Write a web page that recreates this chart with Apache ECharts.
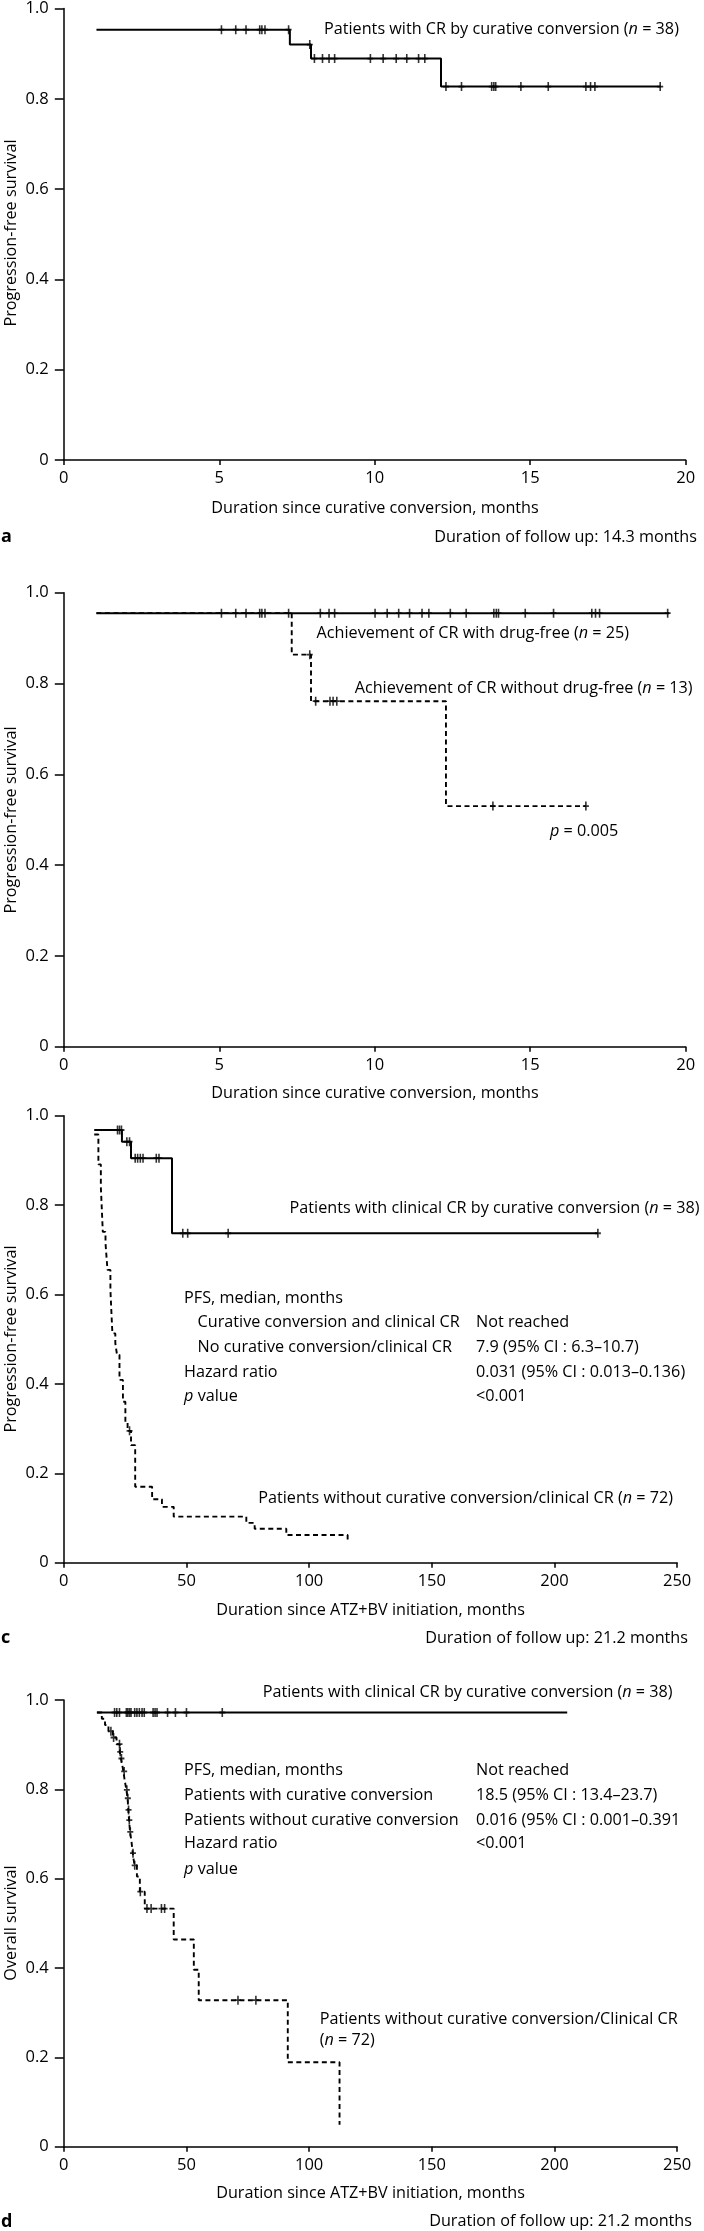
<!DOCTYPE html>
<html>
<head>
<meta charset="utf-8">
<script src="https://cdn.jsdelivr.net/npm/echarts@6/dist/echarts.min.js"></script>
<style>
html,body{margin:0;padding:0;background:#fff;}
#chart{width:704px;height:2231px;}
</style>
</head>
<body>
<div id="chart"></div>
<script>
// ---------- DATA ----------
const yTickLabels = ['0', '0.2', '0.4', '0.6', '0.8', '1.0'];

// Panel a: PFS since curative conversion
const aCurve = [[1.05,0.953],[7.27,0.920],[7.95,0.889],[12.13,0.827],[19.2,0.827]];
const aCensor = [5.07,5.53,5.86,6.30,6.37,6.47,7.23,7.91,8.06,8.32,8.53,8.71,9.86,10.27,10.69,11.03,11.41,11.61,12.29,12.79,13.76,13.83,13.89,14.70,15.58,16.79,16.94,17.08,19.18];

// Panel b: drug-free vs not
const bSolid = [[1.05,0.955],[19.47,0.955]];
const bSolidCensor = [5.07,5.53,5.86,6.30,6.37,6.47,7.23,8.25,8.53,8.71,10.01,10.40,10.77,11.12,11.52,11.74,12.43,12.94,13.83,13.91,13.98,14.84,15.75,16.98,17.10,17.23,19.42];
const bDashed = [[1.05,0.955],[7.33,0.8635],[7.95,0.761],[12.29,0.530],[16.79,0.530]];
const bDashedCensor = [7.91,8.10,8.56,8.66,8.78,13.80,16.79];

// Panel c: PFS since ATZ+BV initiation
const cSolid = [[12.4,0.968],[23.7,0.942],[27.4,0.905],[44.1,0.737],[217.7,0.737]];
const cSolidCensor = [21.9,22.7,23.5,25.7,26.8,29.1,30.1,31.2,32.3,37.7,38.8,48.5,50.5,67.0,217.7];
const cDashed = [[12.4,0.958],[14.1,0.891],[15.1,0.841],[15.9,0.740],[17.0,0.715],[17.8,0.655],[19.0,0.610],[19.8,0.513],[21.0,0.491],[21.7,0.465],[22.7,0.409],[24.1,0.360],[25.1,0.315],[26.0,0.295],[27.4,0.263],[29.1,0.170],[36.0,0.142],[40.0,0.125],[44.8,0.103],[74.4,0.089],[77.8,0.076],[90.7,0.062],[115.7,0.049]];
const cDashedCensor = [26.8];

// Panel d: OS since ATZ+BV initiation
const dSolid = [[13.5,0.972],[205.2,0.972]];
const dSolidCensor = [20.7,21.6,22.7,25.5,26.1,26.8,27.4,28.9,29.8,30.8,31.9,32.8,36.4,37.2,38.0,42.3,45.5,50.0,64.6];
const dDashed = [[13.5,0.972],[15.5,0.958],[16.8,0.944],[18.2,0.930],[20.0,0.916],[21.5,0.901],[22.8,0.884],[23.3,0.869],[23.8,0.855],[24.3,0.840],[24.8,0.821],[25.5,0.799],[26.0,0.780],[26.3,0.754],[26.6,0.731],[27.0,0.705],[27.6,0.683],[28.1,0.657],[28.8,0.630],[29.8,0.605],[31.0,0.571],[33.0,0.533],[44.8,0.464],[53.0,0.396],[55.0,0.328],[91.3,0.189],[112.4,0.049]];
const dDashedCensor = [19.2,20.3,22.7,23.0,23.5,24.6,25.7,26.1,26.4,26.7,27.1,28.2,28.9,31.2,33.9,35.6,39.8,41.1,71.0,78.3];

// ---------- HELPERS ----------
const FONT = '"Open Sans", "Noto Sans", sans-serif';
const FS = 16.2;
function levelAt(curve, t){
  let v = curve[0][1];
  for (const p of curve){ if (p[0] <= t + 1e-9) v = p[1]; }
  return v;
}
function censorPts(curve, times){ return times.map(t => [t, levelAt(curve, t)]); }
const PLUS = 'path://M2.2,0H3.8V8H2.2Z M0,3.2H6V4.8H0Z';
const DASH = [5, 3.5];

const grids = [
  {left: 63.8, top: 6.7, width: 621.9, height: 453.3},
  {left: 63.8, top: 592.7, width: 621.9, height: 454},
  {left: 63.8, top: 1115.7, width: 613.3, height: 447},
  {left: 63.8, top: 1700, width: 613.3, height: 446.7}
];
const xRanges = [[0,20,5],[0,20,5],[0,250,50],[0,250,50]];

const xAxes = xRanges.map((r, i) => ({
  type: 'value', gridIndex: i, min: r[0], max: r[1], interval: r[2],
  axisLine: {show: true, onZero: false, lineStyle: {color: '#000', width: 1.5}},
  axisTick: {show: true, inside: false, length: 5, lineStyle: {color: '#000', width: 1.5}},
  axisLabel: {color: '#000', fontFamily: FONT, fontSize: 16.5, margin: 10},
  splitLine: {show: false}
}));
const yAxes = grids.map((g, i) => ({
  type: 'value', gridIndex: i, min: 0, max: 1, interval: 0.2,
  axisLine: {show: true, onZero: false, lineStyle: {color: '#000', width: 1.5}},
  axisTick: {show: true, inside: false, length: 9, lineStyle: {color: '#000', width: 1.5}},
  axisLabel: {color: '#000', fontFamily: FONT, fontSize: 16.5, margin: 15,
    formatter: v => yTickLabels[Math.round(v / 0.2)]},
  splitLine: {show: false}
}));

function kmLine(curve, idx, dashed){
  return {type: 'line', step: 'end', xAxisIndex: idx, yAxisIndex: idx, data: curve,
    symbol: 'none', showSymbol: false, silent: true, z: dashed ? 2 : 3,
    lineStyle: {color: '#000', width: dashed ? 1.9 : 2, type: dashed ? DASH : 'solid'}};
}
function kmCensor(curve, times, idx){
  return {type: 'scatter', xAxisIndex: idx, yAxisIndex: idx, data: censorPts(curve, times),
    symbol: PLUS, symbolSize: [6, 9], itemStyle: {color: '#000'}, silent: true, z: 4};
}

const series = [
  kmLine(aCurve, 0, false), kmCensor(aCurve, aCensor, 0),
  kmLine(bDashed, 1, true), kmLine(bSolid, 1, false),
  kmCensor(bSolid, bSolidCensor, 1), kmCensor(bDashed, bDashedCensor, 1),
  kmLine(cDashed, 2, true), kmLine(cSolid, 2, false),
  kmCensor(cSolid, cSolidCensor, 2), kmCensor(cDashed, cDashedCensor, 2),
  kmLine(dDashed, 3, true), kmLine(dSolid, 3, false),
  kmCensor(dSolid, dSolidCensor, 3), kmCensor(dDashed, dDashedCensor, 3)
];

// ---------- TEXT ----------
const rich = {i: {fontStyle: 'italic', fontFamily: FONT, fontSize: FS, fill: '#000'}};
function txt(x, y, text, opts){
  opts = opts || {};
  return {type: 'text', x: x, y: y, rotation: opts.rot || 0, silent: true,
    style: {text: text, fill: '#000', fontFamily: FONT, fontSize: opts.size || FS,
      fontWeight: opts.bold ? 'bold' : 'normal',
      textAlign: opts.align || 'left', textVerticalAlign: 'middle', rich: rich}};
}
const graphics = [
  // Panel a
  txt(11, 233, 'Progression-free survival', {rot: Math.PI/2, align: 'center'}),
  txt(324, 29, 'Patients with CR by curative conversion ({i|n} = 38)'),
  txt(375, 508, 'Duration since curative conversion, months', {align: 'center'}),
  txt(1, 537, 'a', {bold: true, size: 18}),
  txt(697, 537, 'Duration of follow up: 14.3 months', {align: 'right'}),
  // Panel b
  txt(11, 820, 'Progression-free survival', {rot: Math.PI/2, align: 'center'}),
  txt(316.6, 633.3, 'Achievement of CR with drug-free ({i|n} = 25)'),
  txt(354.7, 688.3, 'Achievement of CR without drug-free ({i|n} = 13)'),
  txt(550, 831, '{i|p} = 0.005'),
  txt(375, 1093, 'Duration since curative conversion, months', {align: 'center'}),
  // Panel c
  txt(11, 1339, 'Progression-free survival', {rot: Math.PI/2, align: 'center'}),
  txt(289.6, 1208.3, 'Patients with clinical CR by curative conversion ({i|n} = 38)'),
  txt(184.1, 1298.3, 'PFS, median, months'),
  txt(197.6, 1322.7, 'Curative conversion and clinical CR'),
  txt(197.6, 1347.3, 'No curative conversion/clinical CR'),
  txt(184.1, 1372.7, 'Hazard ratio'),
  txt(184.1, 1396.7, '{i|p} value'),
  txt(476, 1322.7, 'Not reached'),
  txt(476, 1347.3, '7.9 (95% CI : 6.3\u201310.7)'),
  txt(476, 1372.7, '0.031 (95% CI : 0.013\u20130.136)'),
  txt(476, 1396.7, '<0.001'),
  txt(258.2, 1498.3, 'Patients without curative conversion/clinical CR ({i|n} = 72)'),
  txt(370.5, 1610, 'Duration since ATZ+BV initiation, months', {align: 'center'}),
  txt(1, 1638, 'c', {bold: true, size: 18}),
  txt(688, 1638, 'Duration of follow up: 21.2 months', {align: 'right'}),
  // Panel d
  txt(11, 1923, 'Overall survival', {rot: Math.PI/2, align: 'center'}),
  txt(262.7, 1692.7, 'Patients with clinical CR by curative conversion ({i|n} = 38)'),
  txt(184.1, 1770, 'PFS, median, months'),
  txt(184.1, 1795, 'Patients with curative conversion'),
  txt(184.1, 1820, 'Patients without curative conversion'),
  txt(184.1, 1843.7, 'Hazard ratio'),
  txt(184.1, 1869, '{i|p} value'),
  txt(476, 1770, 'Not reached'),
  txt(476, 1795, '18.5 (95% CI : 13.4\u201323.7)'),
  txt(476, 1820, '0.016 (95% CI : 0.001\u20130.391'),
  txt(476, 1843.7, '<0.001'),
  txt(319.7, 2019, 'Patients without curative conversion/Clinical CR'),
  txt(319.7, 2040.7, '({i|n} = 72)'),
  txt(370.5, 2193, 'Duration since ATZ+BV initiation, months', {align: 'center'}),
  txt(1, 2221.7, 'd', {bold: true, size: 18}),
  txt(692, 2221.7, 'Duration of follow up: 21.2 months', {align: 'right'})
];

const chart = echarts.init(document.getElementById('chart'), null, {renderer: 'canvas'});
chart.setOption({
  animation: false,
  backgroundColor: '#fff',
  grid: grids,
  xAxis: xAxes,
  yAxis: yAxes,
  series: series,
  graphic: graphics
});
</script>
</body>
</html>
